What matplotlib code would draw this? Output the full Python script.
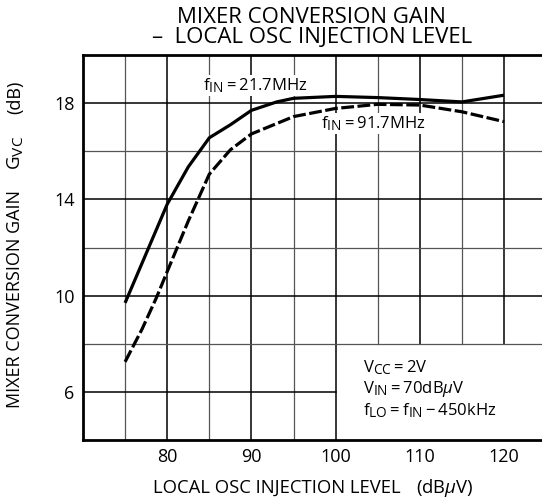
import matplotlib
matplotlib.use('Agg')
import matplotlib.pyplot as plt
import matplotlib._mathtext as mathtext_internal

plt.rcParams['font.family'] = ['Open Sans', 'DejaVu Sans']
plt.rcParams['mathtext.fontset'] = 'custom'
plt.rcParams['mathtext.rm'] = 'Open Sans'
plt.rcParams['mathtext.it'] = 'Open Sans:italic'
plt.rcParams['mathtext.bf'] = 'Open Sans:bold'
# datasheet subscripts are nearly full size
mathtext_internal.SHRINK_FACTOR = 0.82

# local osc injection level (dBuV) and conversion gain (dB)
lo_level_21 = [75, 77.5, 80, 82.5, 85, 87.5, 90, 93, 95, 100, 105, 110, 115, 120]
gain_21 = [9.7, 11.75, 13.8, 15.35, 16.56, 17.1, 17.7, 18.05, 18.2, 18.28, 18.23, 18.15, 18.05, 18.33]

lo_level_91 = [75, 77, 78.7, 80, 82.5, 85, 87.5, 90, 95, 100, 105, 110, 115, 120]
gain_91 = [7.25, 8.6, 9.9, 11.0, 13.1, 15.05, 16.06, 16.72, 17.44, 17.78, 17.95, 17.92, 17.64, 17.23]

xticks = [80, 90, 100, 110, 120]
yticks = [6, 10, 14, 18]

fig = plt.figure(figsize=(5.42, 5.0), dpi=100)
ax = fig.add_axes([83 / 542, 60 / 500, 1 - 83 / 542, 385 / 500])
ax.set_xlim(70, 124.5)
ax.set_ylim(4, 20)

# grid, the lower right corner is left blank for the conditions box
for x in range(75, 125, 5):
    major = x % 10 == 0
    c = 'black' if major else '#555555'
    lw = 1.1 if major else 0.9
    y0 = 8 if x > 100 else 4
    ax.plot([x, x], [y0, 20], color=c, lw=lw, zorder=1)
for y in range(6, 20, 2):
    major = y % 4 == 2
    c = 'black' if major else '#555555'
    lw = 1.1 if major else 0.9
    x1 = 100 if y < 8 else 124.5
    ax.plot([70, x1], [y, y], color=c, lw=lw, zorder=1)

ax.plot(lo_level_21, gain_21, color='black', lw=2.3, solid_capstyle='butt', zorder=3)
ax.plot(lo_level_91, gain_91, color='black', lw=2.3, dashes=(4, 1.1), zorder=3)

ax.set_xticks(xticks)
ax.set_yticks(yticks)
ax.tick_params(length=0, labelsize=13, pad=6)
for s in ['left', 'bottom', 'top']:
    ax.spines[s].set_linewidth(2)
ax.spines['right'].set_visible(False)

ax.text(84.3, 18.72, r'$\mathregular{f_{IN} = 21.7MHz}$', fontsize=12, va='center', ha='left',
        bbox=dict(facecolor='white', edgecolor='none', pad=1), zorder=2)
ax.text(98.2, 17.15, r'$\mathregular{f_{IN} = 91.7MHz}$', fontsize=12, va='center', ha='left',
        bbox=dict(facecolor='white', edgecolor='none', pad=1), zorder=2)

ax.text(103.3, 7.0, r'$\mathregular{V_{CC} = 2V}$', fontsize=12, va='center', ha='left')
ax.text(103.3, 6.1, r'$\mathregular{V_{IN} = 70dB}\mu\mathregular{V}$', fontsize=12, va='center', ha='left')
ax.text(103.3, 5.2, r'$\mathregular{f_{LO} = f_{IN} - 450kHz}$', fontsize=12, va='center', ha='left')

fig.text(0.575, 0.965, 'MIXER CONVERSION GAIN', fontsize=16, ha='center', va='center')
fig.text(0.575, 0.925, '–  LOCAL OSC INJECTION LEVEL', fontsize=16, ha='center', va='center')

fig.text(277 / 542, 1 - 488 / 500, 'LOCAL OSC INJECTION LEVEL', fontsize=13.3, ha='center', va='center')
fig.text(445 / 542, 1 - 488 / 500, r'(dB$\mu$V)', fontsize=13.3, ha='center', va='center')

fig.text(0.028, 1 - 299 / 500, 'MIXER CONVERSION GAIN', fontsize=13, ha='center', va='center', rotation=90)
fig.text(0.028, 1 - 153 / 500, r'$\mathregular{G_{VC}}$', fontsize=13.5, ha='center', va='center', rotation=90)
fig.text(0.028, 1 - 97 / 500, '(dB)', fontsize=13, ha='center', va='center', rotation=90)

fig.savefig('out.png', dpi=100)
